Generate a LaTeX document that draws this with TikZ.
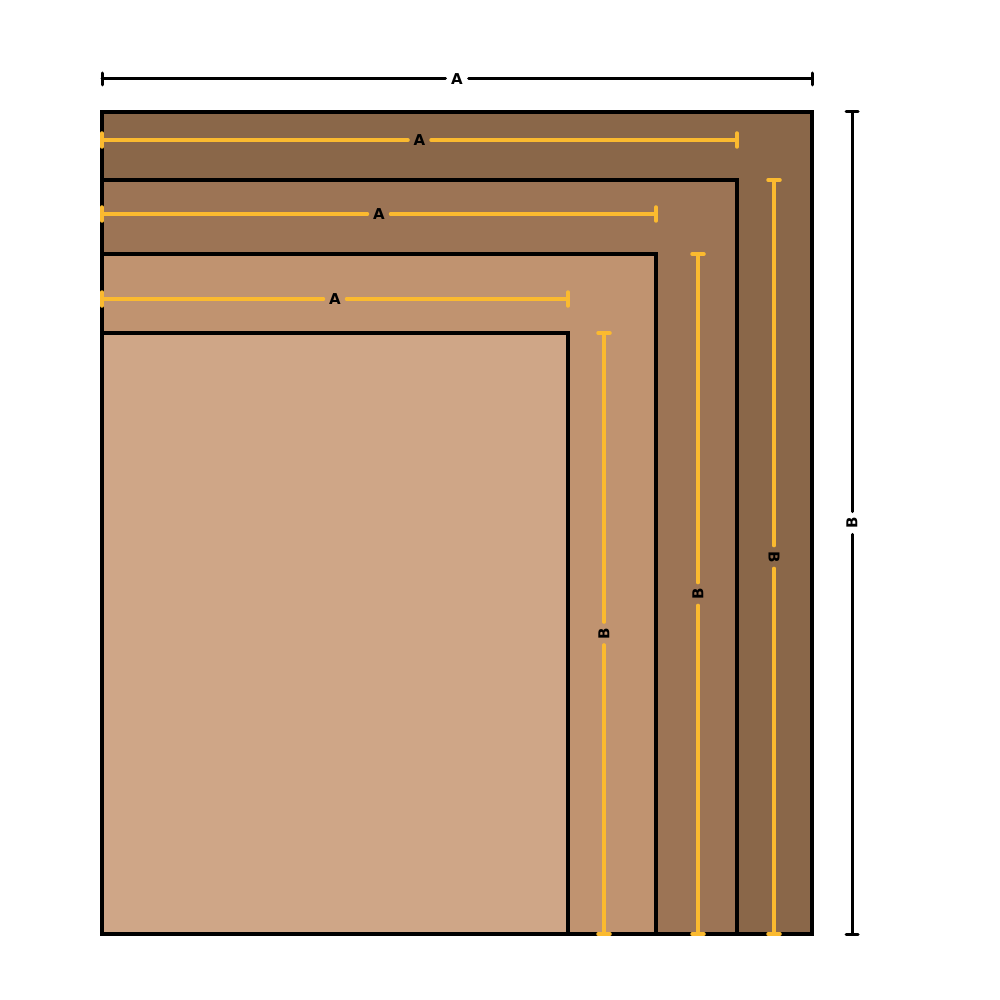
\documentclass[tikz,border=0pt]{standalone}
\usepackage{fontspec}
\setmainfont{DejaVu Sans}
\usetikzlibrary{calc}
\definecolor{woodOne}{HTML}{8A6749}
\definecolor{woodTwo}{HTML}{9C7455}
\definecolor{woodThree}{HTML}{C09370}
\definecolor{woodFour}{HTML}{CFA687}
\definecolor{dimyellow}{HTML}{FBBA2F}
\begin{document}
\begin{tikzpicture}[x=1pt, y=-1pt,
  board/.style={draw=black, line width=4pt},
  dimline/.style={line width=3pt, line cap=round},
  inline/.style={dimyellow, line width=3.5pt, line cap=round},
  lbl/.style={font=\bfseries\fontsize{15}{15}\selectfont, inner sep=5.5pt}]
\useasboundingbox (0,0) rectangle (1000,1000);
% the boards, biggest first
\draw[board, fill=woodOne] (102,112) rectangle (812,934);
\draw[board, fill=woodTwo] (102,180) rectangle (737,934);
\draw[board, fill=woodThree] (102,254) rectangle (656,934);
\draw[board, fill=woodFour] (102,333) rectangle (568,934);
% overall width and height
\coordinate (tA1) at (102,79); \coordinate (tA2) at (812,79);
\node[lbl] (tA) at ($(tA1)!.5!(tA2)$) {A};
\draw[dimline] (tA1) -- (tA) -- (tA2);
\foreach \x in {102,812} \draw[dimline] (\x,73) -- ++(0,12);
\coordinate (tB1) at (852,112); \coordinate (tB2) at (852,934);
\node[lbl, rotate=90] (tB) at ($(tB1)!.5!(tB2)$) {B};
\draw[dimline] (tB1) -- (tB) -- (tB2);
\foreach \y in {112,934} \draw[dimline] (846,\y) -- ++(12,0);
% inner widths
\foreach \y/\xe/\n in {140/737/1, 214/656/2, 299/568/3} {
  \coordinate (wA\n s) at (102,\y); \coordinate (wA\n e) at (\xe,\y);
  \node[lbl] (wA\n) at ($(wA\n s)!.5!(wA\n e)$) {A};
  \draw[inline] (wA\n s) -- (wA\n) -- (wA\n e);
  \foreach \x in {102,\xe} \draw[inline] (\x,\y-7) -- ++(0,14);
}
% inner heights
\foreach \x/\ys/\r/\n in {774/180/-90/1, 698/254/90/2, 604/333/90/3} {
  \coordinate (hB\n s) at (\x,\ys); \coordinate (hB\n e) at (\x,934);
  \node[lbl, rotate=\r] (hB\n) at ($(hB\n s)!.5!(hB\n e)$) {B};
  \draw[inline] (hB\n s) -- (hB\n) -- (hB\n e);
  \foreach \y in {\ys,934} \draw[inline] (\x-6,\y) -- ++(12,0);
}
\end{tikzpicture}
\end{document}
